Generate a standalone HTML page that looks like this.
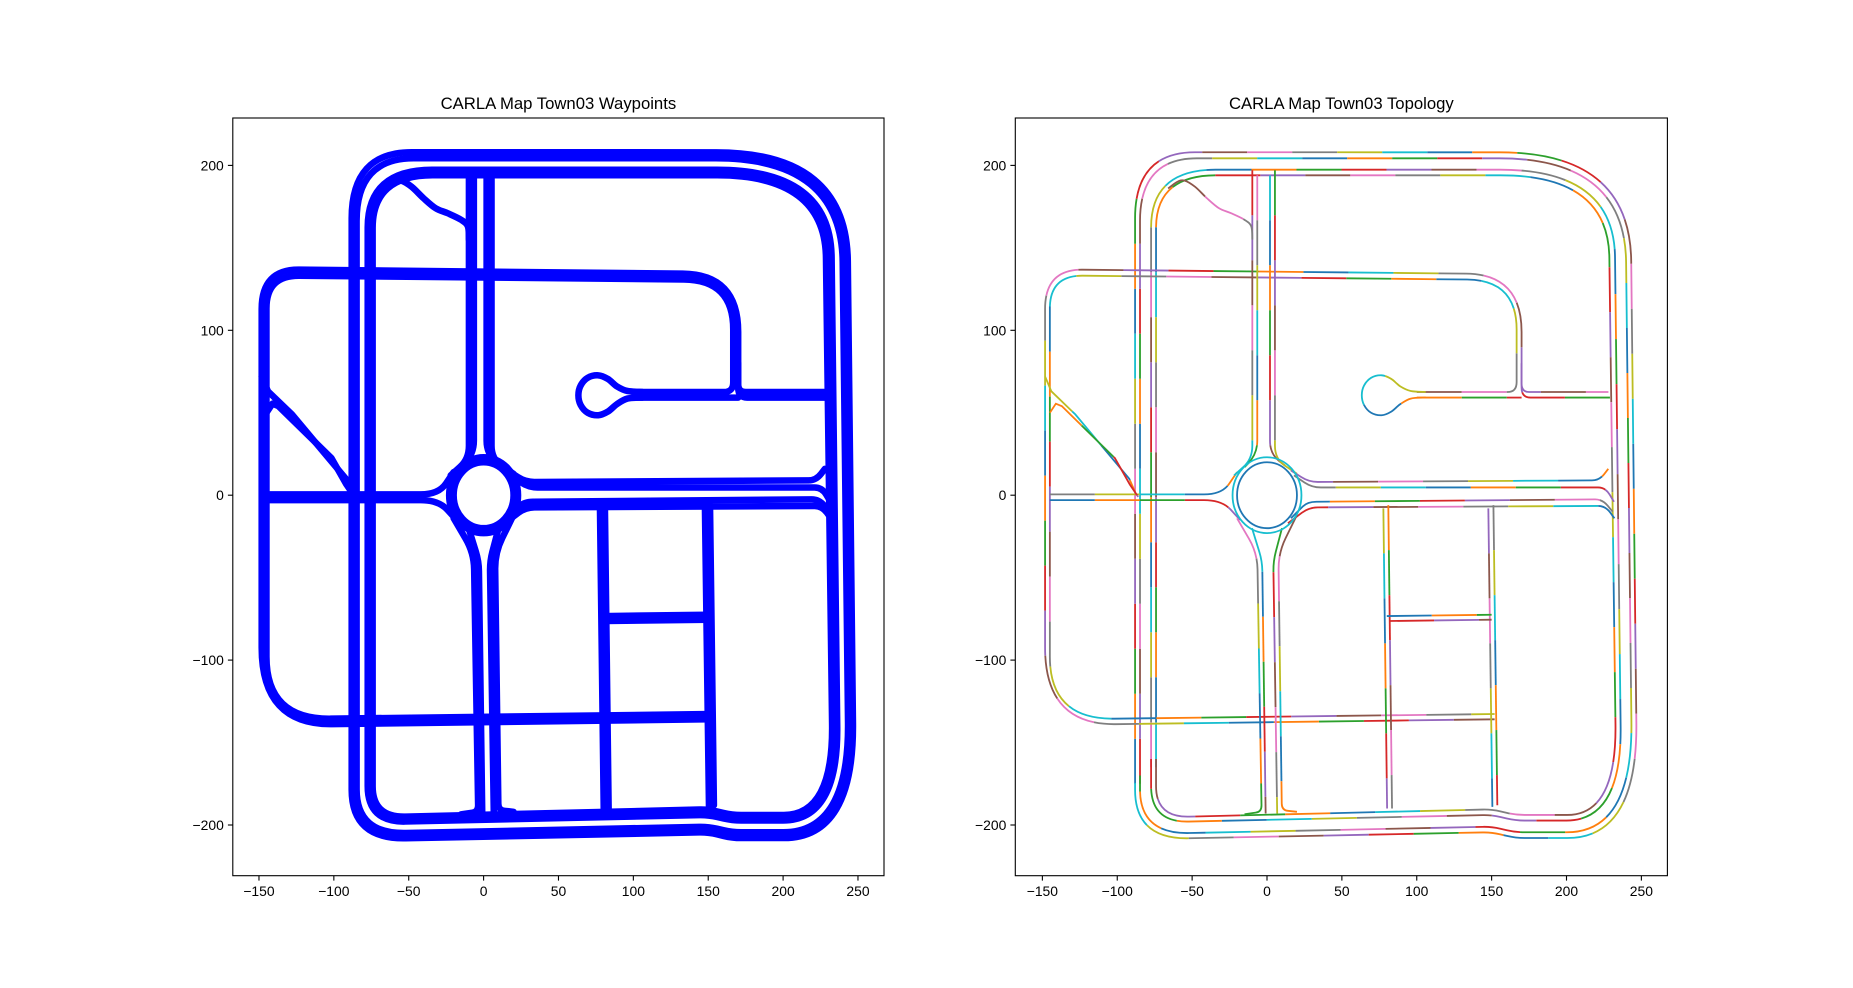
<!DOCTYPE html>
<html><head><meta charset="utf-8"><style>
html,body{margin:0;padding:0;background:#fff;}
svg text{font-family:"Liberation Sans","DejaVu Sans",sans-serif;fill:#000;}
</style></head><body>
<svg id="fig" width="1853" height="983" viewBox="0 0 1853 983" xmlns="http://www.w3.org/2000/svg">
<rect width="1853" height="983" fill="#fff"/>
<g id="left"></g>
<g id="right"></g>
</svg>
<script>
// ---- data: road lanes in map coordinates [x, y, cornerRx, cornerRy] ----
const xTicks = [-150,-100,-50,0,50,100,150,200,250];
const yTicks = [-200,-100,0,100,200];
const titles = ["CARLA Map Town03 Waypoints","CARLA Map Town03 Topology"];
const ringLane1 = [[-88.1,-175],[-88.1,208,40,40],[242.4,207.9,87,66],[247.5,-207.9,47,70],[166,-207.9,6,3],[150,-204.4,6,3],[-88.1,-208.7,36,30],[-88.1,-170]];
const ringLane2 = [[-84.8,-175],[-84.8,204.3,38,38],[239,204.3,84,63],[244.2,-204.4,44,67],[166,-204.4,6,3],[150,-201,6,3],[-84.8,-205.5,33,27],[-84.8,-170]];
const ringLane3 = [[-77.4,-165],[-77.4,197.4,43,35],[231.7,197.4,76,53],[236.9,-197.3,37,57],[166,-197.3,6,3],[150,-193.9,6,3],[-77.4,-198.4,25,22],[-77.4,-160]];
const ringLane4 = [[-74.1,-165],[-74.1,194,40,32],[227.9,194,72,50],[233.5,-193.9,33,55],[166,-193.9,6,3],[150,-190.5,6,3],[-74.1,-195.4,22,19],[-74.1,-160]];
const farLeftOuter = [[229,59.2],[170,59.2,6,6],[170,134,37,35],[-148.2,137,25,24],[-148.2,-139.4,47,47],[152,-135.9]];
const farLeftInner = [[100,62.6],[166.7,62.6,6,6],[166.7,130.5,33,30],[-145,133.3,22,20],[-145,-136,43,38],[152,-132.7]];
const loopLane = [[106,62.6],[96,63.2],[89,66],[83,70.5],[76.6,72.7],[69.5,71.2],[64.8,66.5],[63.3,60.6],[64.8,54.7],[69.5,50],[76.6,48.5],[83,50.7],[89,55.2],[96,58.6],[106,59.2]];
const loopLower = [[100,59.2],[170,59.2]];
const loopConnector = [[170,80],[170,62.6,5,5],[228,62.6]];
const westUpper = [[-145,0.5],[-30,0.5,12,8],[-20,14]];
const westLower = [[-145,-3],[-30,-3,12,8],[-18,-15]];
const north1 = [[-9.8,197],[-9.8,22,8,8],[-22,12]];
const north2 = [[-6.5,194],[-6.5,25,8,8],[-15,17]];
const north3 = [[2,194],[2,25,8,8],[12,18]];
const north4 = [[5.3,197],[5.3,22,8,8],[20,13]];
const curvyRoad = [[-66,186],[-60,190],[-55,190.8],[-48,187],[-40,180],[-32,174],[-24,171],[-15,167],[-10.5,163],[-9.8,155]];
const diag1 = [[-148.2,72],[-144,63],[-128,49],[-92,10],[-88.1,2]];
const diag2 = [[-145,50],[-141,55.5],[-137,54],[-101.6,22.5],[-91.6,6.5],[-86,-1]];
const eastUpper1 = [[16,15],[28,8,6,4],[222,9,5,5],[227.9,16]];
const eastUpper2 = [[18,12],[30,4.7,6,4],[226,4.7,5,5],[231.7,-4]];
const eastLower1 = [[16,-14],[27,-4,6,4],[224,-2.5,5,5],[230.8,-10]];
const eastLower2 = [[14,-17],[28,-7.4,6,4],[226,-6.5,5,5],[232,-14]];
const south1 = [[-20,-14],[-6.5,-35,6,10],[-3.6,-192,4,4],[-15,-193.5]];
const south2 = [[-10,-20],[-3.2,-40,4,6],[-0.9,-193]];
const south3 = [[10,-20],[4.2,-40,4,6],[6.8,-193]];
const south4 = [[20,-12],[7.6,-35,6,10],[9.9,-191,4,4],[20,-192]];
const grid1 = [[77.7,-8],[80.2,-190]];
const grid2 = [[81,-6],[83.5,-190]];
const grid3 = [[147.8,-8],[150.5,-189]];
const grid4 = [[151.2,-6],[153.8,-188]];
const midRoad1 = [[80,-73.3],[150,-72.5]];
const midRoad2 = [[81.5,-76.3],[150,-75.5]];
const roundaboutRadii = [20, 23];
const lanes = [ringLane1,ringLane2,ringLane3,ringLane4,farLeftOuter,farLeftInner,loopLane,loopLower,loopConnector,westUpper,westLower,north1,north2,north3,north4,curvyRoad,diag1,diag2,eastUpper1,eastUpper2,eastLower1,eastLower2,south1,south2,south3,south4,grid1,grid2,grid3,grid4,midRoad1,midRoad2];
const smoothLanes = [loopLane, curvyRoad];

const NS = "http://www.w3.org/2000/svg";
const SX = 1.4975, SY = 1.649;
const panels = [
  {g: document.getElementById('left'), x0: 483.6, L: 232.8, R: 884},
  {g: document.getElementById('right'), x0: 1267.0, L: 1015.3, R: 1667.4}
];
const Y0 = 495.2, TOP = 118, BOT = 875.7;
const tab10 = ['#1f77b4','#ff7f0e','#2ca02c','#d62728','#9467bd','#8c564b','#e377c2','#7f7f7f','#bcbd22','#17becf'];

function mk(tag, attrs, parent){ const e=document.createElementNS(NS,tag); for(const k in attrs) e.setAttribute(k,attrs[k]); parent.appendChild(e); return e; }
function fmt(v){ return v<0 ? '\u2212'+Math.abs(v) : String(v); }
function f(v){ return v.toFixed(2); }

function smoothPath(pts, p){
  const P = pts.map(q=>[p.x0+q[0]*SX, Y0-q[1]*SY]);
  let d = 'M'+f(P[0][0])+' '+f(P[0][1]);
  for(let i=0;i<P.length-1;i++){
    const p0=P[Math.max(i-1,0)], p1=P[i], p2=P[i+1], p3=P[Math.min(i+2,P.length-1)];
    const c1=[p1[0]+(p2[0]-p0[0])/6, p1[1]+(p2[1]-p0[1])/6];
    const c2=[p2[0]-(p3[0]-p1[0])/6, p2[1]-(p3[1]-p1[1])/6];
    d += ' C'+f(c1[0])+' '+f(c1[1])+' '+f(c2[0])+' '+f(c2[1])+' '+f(p2[0])+' '+f(p2[1]);
  }
  return d;
}

function lanePath(pts, p){
  if(smoothLanes.includes(pts)) return smoothPath(pts, p);
  const P = pts.map(q=>[p.x0+q[0]*SX, Y0-q[1]*SY]);
  let d = 'M'+f(P[0][0])+' '+f(P[0][1]);
  for(let i=1;i<P.length-1;i++){
    const rx = pts[i][2]||0, ry = pts[i][3]||0;
    if(!rx && !ry){ d += ' L'+f(P[i][0])+' '+f(P[i][1]); continue; }
    const a=P[i-1], c=P[i], b=P[i+1];
    const d1=[c[0]-a[0],c[1]-a[1]], l1=Math.hypot(d1[0],d1[1]);
    const d2=[b[0]-c[0],b[1]-c[1]], l2=Math.hypot(d2[0],d2[1]);
    let t1 = Math.abs(d1[0])>Math.abs(d1[1]) ? rx*SX : ry*SY;
    let t2 = Math.abs(d2[0])>Math.abs(d2[1]) ? rx*SX : ry*SY;
    t1 = Math.min(t1, l1*0.95); t2 = Math.min(t2, l2*0.95);
    const A=[c[0]-d1[0]/l1*t1, c[1]-d1[1]/l1*t1], B=[c[0]+d2[0]/l2*t2, c[1]+d2[1]/l2*t2];
    d += ' L'+f(A[0])+' '+f(A[1])+' Q'+f(c[0])+' '+f(c[1])+' '+f(B[0])+' '+f(B[1]);
  }
  const e=P[P.length-1];
  d += ' L'+f(e[0])+' '+f(e[1]);
  return d;
}

panels.forEach((p, pi)=>{
  const g = p.g;
  const roads = mk('g',{},g);
  
  
  lanes.forEach((lane, li)=>{
    const d = lanePath(lane, p);
    if(pi===0){
      const el = mk('path',{d:d, fill:'none', stroke:'#0000ff', 'stroke-width':6.5, 'stroke-linecap':'round','stroke-linejoin':'round'}, roads);
      
      
    } else {
      const seg = 45;
      for(let k=0;k<10;k++){
        const el = mk('path',{d:d, fill:'none', stroke:tab10[(k+li*3)%10], 'stroke-width':1.8,
          'stroke-dasharray': seg+' '+(9*seg), 'stroke-dashoffset': -k*seg}, roads);
        
        
      }
    }
  });
  roundaboutRadii.forEach((r, ri)=>{
    const el = mk('ellipse',{cx:p.x0, cy:Y0, rx:r*SX, ry:r*SY, fill:'none',
      stroke: pi===0 ? '#0000ff' : (ri===0 ? '#1f77b4' : '#17becf'), 'stroke-width': pi===0 ? 6.5 : 1.8}, roads);
    
    
  });
  const fr = mk('rect',{x:p.L, y:TOP, width:p.R-p.L, height:BOT-TOP, fill:'none', stroke:'#000', 'stroke-width':1.1}, g);
  
  
  xTicks.forEach(v=>{
    const X = p.x0 + v*SX;
    const t = mk('line',{x1:X, x2:X, y1:BOT, y2:BOT+4.9, stroke:'#000','stroke-width':1.1}, g);
    
    
    const tx = mk('text',{x:X, y:BOT+20.5, 'text-anchor':'middle','font-size':13.9}, g);
    tx.textContent = fmt(v);
    
    
  });
  yTicks.forEach(v=>{
    const Y = Y0 - v*SY;
    const t = mk('line',{x1:p.L-4.9, x2:p.L, y1:Y, y2:Y, stroke:'#000','stroke-width':1.1}, g);
    
    
    const tx = mk('text',{x:p.L-9, y:Y+5, 'text-anchor':'end','font-size':13.9}, g);
    tx.textContent = fmt(v);
    
    
  });
  const tt = mk('text',{x:(p.L+p.R)/2, y:TOP-9, 'text-anchor':'middle','font-size':16.7}, g);
  tt.textContent = titles[pi];
  
  
});
</script>
</body></html>
